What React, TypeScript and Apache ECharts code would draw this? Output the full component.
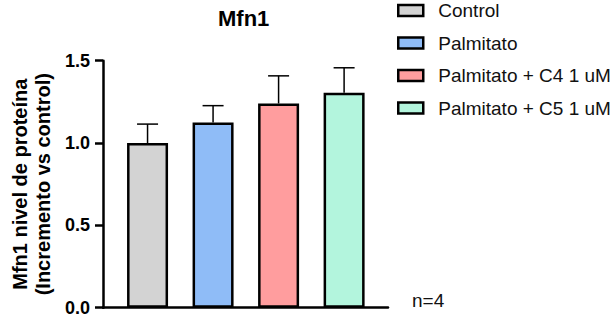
import React, { useEffect, useRef } from "react";
import * as echarts from "echarts";

const categories = ["Control", "Palmitato", "Palmitato + C4 1 uM", "Palmitato + C5 1 uM"];
const means = [1.0, 1.125, 1.24, 1.305];
const errors = [0.115, 0.102, 0.168, 0.152];
const colors = ["#d3d3d3", "#8fbcf7", "#ff9d9e", "#b3f5dd"];
const yTicks = [0, 0.5, 1.0, 1.5];

const FONT = "'Liberation Sans', Arial, sans-serif";

export default function App() {
  const ref = useRef<HTMLDivElement>(null);
  useEffect(() => {
    if (!ref.current) return;
    const chart = echarts.init(ref.current, null, { renderer: "svg" });
    const barSeries = categories.map((name, i) => ({
      name,
      type: "bar",
      data: [[i, means[i]]],
      barWidth: 41,
      barGap: "-100%",
      itemStyle: { color: colors[i], borderColor: "#000", borderWidth: 2.5 },
      z: 2,
    }));
    const errSeries = {
      type: "custom",
      silent: true,
      z: 3,
      data: means.map((m, i) => [i, m, m + errors[i]]),
      renderItem: (_params: any, api: any) => {
        const x = api.value(0);
        const base = api.coord([x, api.value(1)]);
        const top = api.coord([x, api.value(2)]);
        const half = 10.5;
        const style = { stroke: "#000", lineWidth: 1.5 };
        return {
          type: "group",
          children: [
            { type: "line", shape: { x1: base[0], y1: base[1], x2: top[0], y2: top[1] }, style },
            { type: "line", shape: { x1: top[0] - half, y1: top[1], x2: top[0] + half, y2: top[1] }, style },
          ],
        };
      },
    };
    chart.setOption({
      animation: false,
      backgroundColor: "#fff",
      textStyle: { fontFamily: FONT },
      title: {
        text: "Mfn1",
        left: 218,
        top: 7,
        padding: 0,
        textStyle: { fontFamily: FONT, fontSize: 22, fontWeight: "bold", color: "#000" },
      },
      legend: {
        orient: "vertical",
        left: 397,
        top: 1,
        padding: 0,
        itemWidth: 25,
        itemHeight: 11,
        itemGap: 13.5,
        icon: "rect",
        data: categories,
        itemStyle: { borderColor: "#000", borderWidth: 2.5 },
        textStyle: { fontFamily: FONT, fontSize: 19, color: "#111", padding: [0, 0, 0, 10] },
      },
      grid: { left: 103, right: 225, top: 60.7, bottom: 15.3, containLabel: false },
      xAxis: {
        type: "value",
        min: -0.68,
        max: 3.67,
        axisLine: { onZero: false, lineStyle: { color: "#000", width: 2.5 } },
        axisTick: { show: false },
        axisLabel: { show: false },
        splitLine: { show: false },
      },
      yAxis: {
        type: "value",
        min: 0,
        max: 1.5,
        interval: 0.5,
        name: "Mfn1 nivel de proteína\n(Incremento vs control)",
        nameLocation: "middle",
        nameGap: 49,
        nameTextStyle: { fontFamily: FONT, fontSize: 20, fontWeight: "bold", color: "#000", lineHeight: 23 },
        axisLine: { show: true, onZero: false, lineStyle: { color: "#000", width: 2.5 } },
        axisTick: { show: true, length: 8, lineStyle: { color: "#000", width: 2.5 } },
        axisLabel: {
          margin: 13,
          fontFamily: FONT,
          fontSize: 18,
          fontWeight: "bold",
          color: "#000",
          formatter: (v: number) => (yTicks.includes(v) ? v.toFixed(1) : ""),
        },
        splitLine: { show: false },
      },
      graphic: [
        {
          type: "text",
          left: 412,
          top: 291,
          style: { text: "n=4", fontFamily: FONT, fontSize: 19, fill: "#111" },
        },
      ],
      series: [...barSeries, errSeries],
    });
    return () => chart.dispose();
  }, []);
  return <div ref={ref} style={{ width: 613, height: 323, position: "absolute", left: 0, top: 0 }} />;
}
